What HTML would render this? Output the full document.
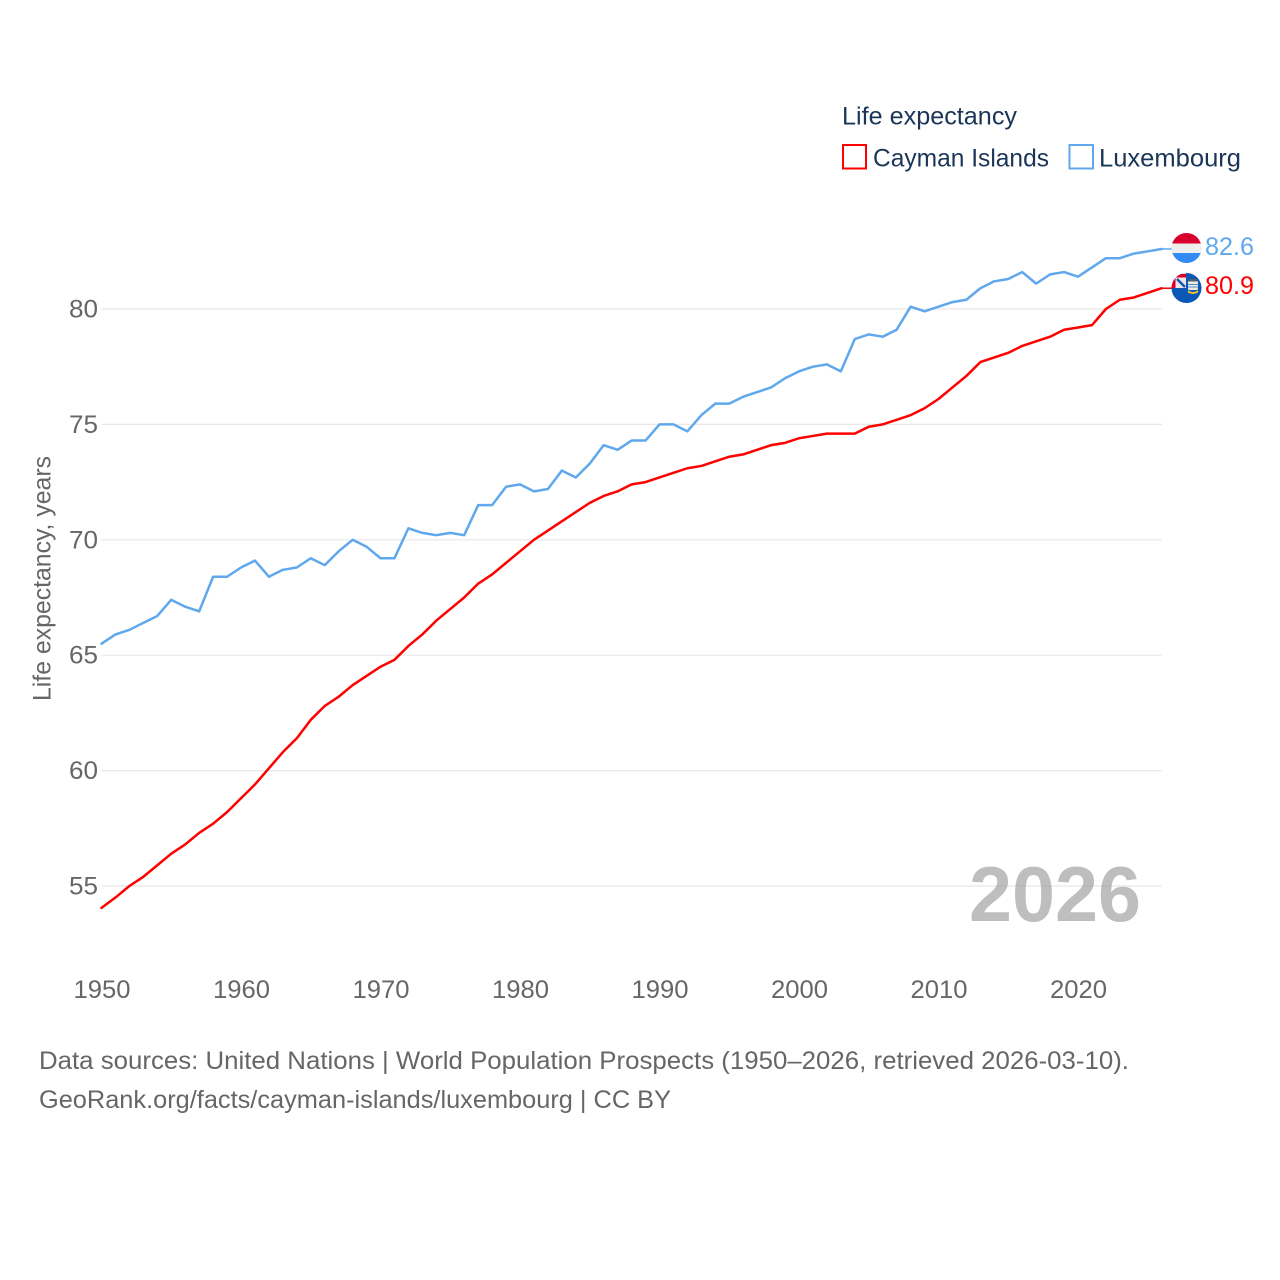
<!DOCTYPE html>
<html lang="en">
<head>
<meta charset="utf-8">
<title>Life expectancy: Cayman Islands and Luxembourg</title>
<style>
html,body{margin:0;padding:0;background:#fff;width:1280px;height:1280px;overflow:hidden}
svg{display:block}
text{font-family:"Liberation Sans",sans-serif}
</style>
</head>
<body>
<svg id="chart" width="1280" height="1280" viewBox="0 0 1280 1280" xmlns="http://www.w3.org/2000/svg">
  <defs>
    <clipPath id="clip-lux"><circle cx="1186.5" cy="248" r="15"/></clipPath>
    <clipPath id="clip-cay"><circle cx="1186.5" cy="288" r="15"/></clipPath>
  </defs>
  <rect width="1280" height="1280" fill="#fff"/>

  <g id="legend">
    <text x="842" y="124.5" font-size="25" fill="#1a3557" textLength="175" lengthAdjust="spacingAndGlyphs">Life expectancy</text>
    <g>
      <rect x="843" y="145" width="23" height="23.5" fill="#fff" stroke="#ff0000" stroke-width="2"/>
      <text x="873" y="166.5" font-size="25" fill="#1a3557" textLength="176" lengthAdjust="spacingAndGlyphs">Cayman Islands</text>
    </g>
    <g>
      <rect x="1069.5" y="145" width="23.5" height="23.5" fill="#fff" stroke="#5fa8ee" stroke-width="2"/>
      <text x="1099" y="166.5" font-size="25" fill="#1a3557" textLength="142" lengthAdjust="spacingAndGlyphs">Luxembourg</text>
    </g>
  </g>

  <g id="grid"></g>
  <g id="y-ticks"></g>
  <g id="x-ticks"></g>

  <text transform="translate(50.5,701) rotate(-90)" font-size="25" fill="#666" textLength="245" lengthAdjust="spacingAndGlyphs">Life expectancy, years</text>

  <text x="969" y="921" font-size="78" font-weight="bold" fill="#888" fill-opacity="0.55" textLength="172" lengthAdjust="spacingAndGlyphs">2026</text>

  <g id="series"></g>

  <g clip-path="url(#clip-lux)">
    <rect x="1171" y="233" width="31" height="10.5" fill="#d8002c"/>
    <rect x="1171" y="243.5" width="31" height="9.5" fill="#eeeeee"/>
    <rect x="1171" y="253" width="31" height="10" fill="#338af3"/>
  </g>
  <g clip-path="url(#clip-cay)">
    <rect x="1171" y="273" width="31" height="30" fill="#0b57b5"/>
    <rect x="1171" y="273" width="15" height="15" fill="#f0e4e4"/>
    <path d="M1171 274h15v3.5h-10.5v10.500h-4.500z" fill="#d8002c"/>
    <path d="M1177 279l8 8" stroke="#0b57b5" stroke-width="2.5" fill="none"/>
    <rect x="1188" y="281" width="10" height="9" rx="1.5" fill="#eeeadc"/>
    <rect x="1189" y="279" width="8" height="2.5" fill="#56606a"/>
    <path d="M1188 284.500h10M1188 287h10" stroke="#4f8fd0" stroke-width="1" fill="none"/>
    <path d="M1188 290q5 4 10 0v2.500q-5 3-10 0z" fill="#f2c230"/>
  </g>

  <g id="end-labels"></g>

  <g>
    <text x="39" y="1069" font-size="25" fill="#666" textLength="1090" lengthAdjust="spacingAndGlyphs">Data sources: United Nations | World Population Prospects (1950–2026, retrieved 2026-03-10).</text>
    <text x="39" y="1108" font-size="25" fill="#666" textLength="632" lengthAdjust="spacingAndGlyphs">GeoRank.org/facts/cayman-islands/luxembourg | CC BY</text>
  </g>
</svg>

<script>
var startYear = 1950;
var yTickValues = [55, 60, 65, 70, 75, 80];
var xTickValues = [1950, 1960, 1970, 1980, 1990, 2000, 2010, 2020];
var caymanValues = [54.05,54.5,55.0,55.4,55.9,56.4,56.8,57.3,57.7,58.2,
  58.8,59.4,60.1,60.8,61.4,62.2,62.8,63.2,63.7,64.1,
  64.5,64.8,65.4,65.9,66.5,67.0,67.5,68.1,68.5,69.0,
  69.5,70.0,70.4,70.8,71.2,71.6,71.9,72.1,72.4,72.5,
  72.7,72.9,73.1,73.2,73.4,73.6,73.7,73.9,74.1,74.2,
  74.4,74.5,74.6,74.6,74.6,74.9,75.0,75.2,75.4,75.7,
  76.1,76.6,77.1,77.7,77.9,78.1,78.4,78.6,78.8,79.1,
  79.2,79.3,80.0,80.4,80.5,80.7,80.9];
var luxembourgValues = [65.5,65.9,66.1,66.4,66.7,67.4,67.1,66.9,68.4,68.4,
  68.8,69.1,68.4,68.7,68.8,69.2,68.9,69.5,70.0,69.7,
  69.2,69.2,70.5,70.3,70.2,70.3,70.2,71.5,71.5,72.3,
  72.4,72.1,72.2,73.0,72.7,73.3,74.1,73.9,74.3,74.3,
  75.0,75.0,74.7,75.4,75.9,75.9,76.2,76.4,76.6,77.0,
  77.3,77.5,77.6,77.3,78.7,78.9,78.8,79.1,80.1,79.9,
  80.1,80.3,80.4,80.9,81.2,81.3,81.6,81.1,81.5,81.6,
  81.4,81.8,82.2,82.2,82.4,82.5,82.6];

var NS = 'http://www.w3.org/2000/svg';
function xScale(year) { return 101.5 + (year - 1950) * (1060.2 / 76); }
function yScale(v) { return 886 - (v - 55) * (577 / 25); }
function make(tag, attrs, parent) {
  var el = document.createElementNS(NS, tag);
  for (var k in attrs) { el.setAttribute(k, attrs[k]); }
  parent.appendChild(el);
  return el;
}

var gridG = document.getElementById('grid');
var yG = document.getElementById('y-ticks');
var xG = document.getElementById('x-ticks');
var seriesG = document.getElementById('series');
var endG = document.getElementById('end-labels');

yTickValues.forEach(function (v) {
  var line = make('line', {x1: 101.5, x2: 1161.7, y1: yScale(v), y2: yScale(v), stroke: '#e8e8e8', 'stroke-width': 1.2}, gridG);
  
  
  var t = make('text', {x: 98, y: yScale(v) + 8.5, 'font-size': 25, fill: '#666', 'text-anchor': 'end', textLength: 29, lengthAdjust: 'spacingAndGlyphs'}, yG);
  
  
  t.textContent = String(v);
});

xTickValues.forEach(function (y) {
  var t = make('text', {x: xScale(y) + 0.5, y: 998, 'font-size': 25, fill: '#666', 'text-anchor': 'middle', textLength: 57, lengthAdjust: 'spacingAndGlyphs'}, xG);
  
  
  t.textContent = String(y);
});

function drawSeries(values, color, name) {
  var pts = values.map(function (v, i) {
    return xScale(startYear + i).toFixed(2) + ',' + yScale(v).toFixed(2);
  });
  var line = make('polyline', {points: pts.join(' '), fill: 'none', stroke: color, 'stroke-width': 2.5, 'stroke-linejoin': 'round', 'stroke-linecap': 'round'}, seriesG);
  
  

  var last = values[values.length - 1];
  var ly = yScale(last);
  var lastX = xScale(startYear + values.length - 1);
  var conn = make('line', {x1: lastX, x2: 1172, y1: ly, y2: ly, stroke: color, 'stroke-width': 1.5}, seriesG);
  
  

  var label = make('text', {x: 1205, y: ly + 6, 'font-size': 25, fill: color, textLength: 49, lengthAdjust: 'spacingAndGlyphs'}, endG);
  
  
  label.textContent = last.toFixed(1);
}

drawSeries(caymanValues, '#ff0000', 'cayman-islands');
drawSeries(luxembourgValues, '#5fa8ee', 'luxembourg');
</script>
</body>
</html>
